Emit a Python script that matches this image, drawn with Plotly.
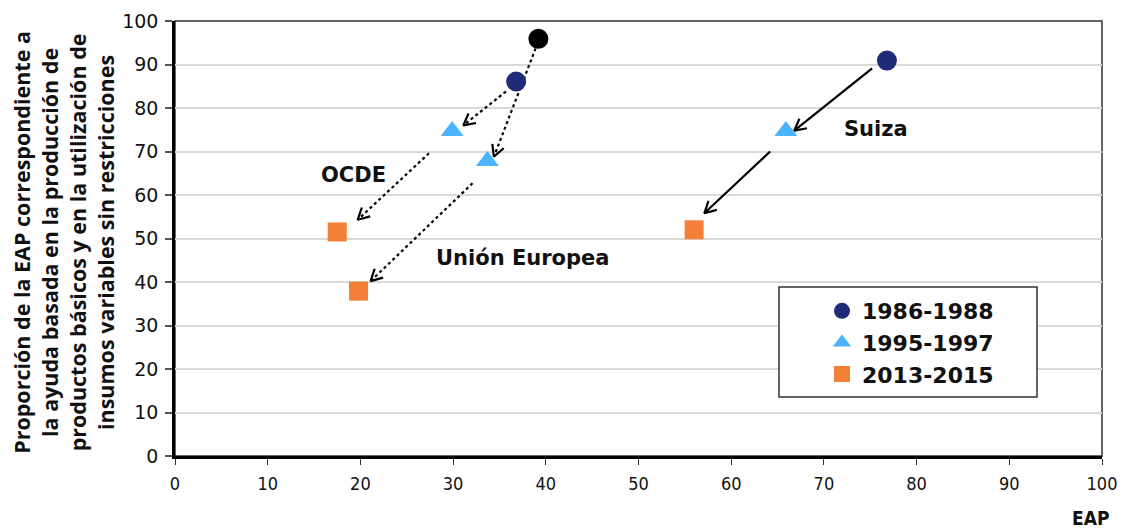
import math
import plotly.graph_objects as go

# ---- data ----
periods = ["1986-1988", "1995-1997", "2013-2015"]
x_1986 = [36.8, 76.8, 39.2]
y_1986 = [86.1, 90.9, 95.9]
c_1986 = ["#1f2a78", "#1f2a78", "#000000"]
x_1995 = [29.9, 33.7, 65.9]
y_1995 = [74.7, 67.8, 74.7]
x_2013 = [17.5, 19.8, 56.0]
y_2013 = [51.5, 37.9, 52.0]

# arrows: start x, start y, end x, end y, dotted?
arrow_x0 = [35.7, 38.9, 27.4, 32.1, 75.2, 64.2]
arrow_y0 = [83.8, 93.7, 69.6, 62.7, 89.1, 70.0]
arrow_x1 = [31.1, 34.4, 19.7, 21.1, 66.8, 57.1]
arrow_y1 = [76.0, 68.8, 54.3, 40.2, 74.8, 55.8]
arrow_dot = [True, True, True, True, False, False]

label_text = ["OCDE", "Unión Europea", "Suiza"]
label_x = [19.3, 37.5, 75.6]
label_y = [64.5, 45.5, 75.2]

y_title = ("<b>Proporción de la EAP correspondiente a<br>la ayuda basada en la producción de<br>"
           "productos básicos y en la utilización de<br>insumos variables sin restricciones</b>")

W, H = 1122, 528
ML, MR, MT, MB = 175, 20, 21, 72
PW, PH = W - ML - MR, H - MT - MB
sx, sy = PW / 100.0, PH / 100.0

fig = go.Figure()

# arrows
for x0, y0, x1, y1, dot in zip(arrow_x0, arrow_y0, arrow_x1, arrow_y1, arrow_dot):
    dash = "dot" if dot else "solid"
    fig.add_trace(go.Scatter(x=[x0, x1], y=[y0, y1], mode="lines",
                             line=dict(color="black", width=2.2, dash=dash),
                             showlegend=False, hoverinfo="skip"))
    # open V arrow head, computed in pixel space
    dx, dy = (x1 - x0) * sx, (y1 - y0) * sy
    L = math.hypot(dx, dy)
    ux, uy = dx / L, dy / L
    hl, ang = 13, math.radians(28)
    hx, hy = [], []
    for s in (1, -1):
        ca, sa = math.cos(s * ang), math.sin(s * ang)
        bx = -(ux * ca - uy * sa) * hl
        by = -(ux * sa + uy * ca) * hl
        hx.append(x1 + bx / sx)
        hy.append(y1 + by / sy)
    fig.add_trace(go.Scatter(x=[hx[0], x1, hx[1]], y=[hy[0], y1, hy[1]], mode="lines",
                             line=dict(color="black", width=2.2),
                             showlegend=False, hoverinfo="skip"))

fig.add_trace(go.Scatter(x=x_1986, y=y_1986, mode="markers", name=periods[0],
                         marker=dict(symbol="circle", size=20, color=c_1986)))
fig.add_trace(go.Scatter(x=x_1995, y=y_1995, mode="markers", name=periods[1],
                         marker=dict(symbol="triangle-up", size=20, color="#4db3ff")))
fig.add_trace(go.Scatter(x=x_2013, y=y_2013, mode="markers", name=periods[2],
                         marker=dict(symbol="square", size=19, color="#f47f36")))

for t, x, y in zip(label_text, label_x, label_y):
    fig.add_annotation(x=x, y=y, text="<b>%s</b>" % t, showarrow=False,
                       font=dict(family="DejaVu Sans", size=21, color="#111"))

fig.add_annotation(xref="paper", yref="paper", x=(64 - ML) / PW, y=0.49,
                   text=y_title, textangle=-90, showarrow=False,
                   xanchor="center", yanchor="middle",
                   font=dict(family="Open Sans", size=21.5, color="#111"))
fig.add_annotation(xref="paper", yref="paper", x=(1111 - ML) / PW, y=-(518 - MT - PH) / PH,
                   text="<b>EAP</b>", showarrow=False, xanchor="right", yanchor="middle",
                   font=dict(family="DejaVu Sans Condensed, Liberation Sans", size=19, color="#111"))

# plot border (top/right thin)
fig.add_shape(type="rect", xref="paper", yref="paper", x0=0, y0=0, x1=1, y1=1,
              line=dict(color="#333", width=1.5), layer="below")
# legend box
lx0, lx1, ly0, ly1 = 779, 1037, 287, 397
fig.add_shape(type="rect", xref="paper", yref="paper",
              x0=(lx0 - ML) / PW, x1=(lx1 - ML) / PW,
              y0=1 - (ly1 - MT) / PH, y1=1 - (ly0 - MT) / PH,
              line=dict(color="#333", width=1.5), fillcolor="white", layer="above")

fig.update_layout(
    width=W, height=H,
    margin=dict(l=ML, r=MR, t=MT, b=MB, autoexpand=False),
    plot_bgcolor="white", paper_bgcolor="white",
    legend=dict(x=(822 - ML) / PW, y=1 - (290 - MT) / PH, xanchor="left", yanchor="top",
                bgcolor="rgba(0,0,0,0)", borderwidth=0,
                font=dict(family="DejaVu Sans", size=22, color="#111", weight="bold")),
)
fig.update_xaxes(range=[0, 100], dtick=10, showgrid=False, zeroline=False,
                 showline=True, linecolor="black", linewidth=2.5,
                 ticks="outside", ticklen=6, tickcolor="#333", tickwidth=1.2,
                 ticklabelstandoff=4,
                 tickfont=dict(family="DejaVu Sans Condensed, Liberation Sans", size=18, color="#111"))
fig.update_yaxes(range=[0, 100], dtick=10, showgrid=True, gridcolor="#d9d9d9", gridwidth=2,
                 zeroline=False, showline=True, linecolor="black", linewidth=2.5,
                 ticks="outside", ticklen=7, tickcolor="#555", tickwidth=2,
                 ticklabelstandoff=3,
                 tickfont=dict(family="DejaVu Sans", size=19, color="#111"))

fig.write_html("out.html", config={"displayModeBar": False},
               post_script="document.body.style.margin='0';")
